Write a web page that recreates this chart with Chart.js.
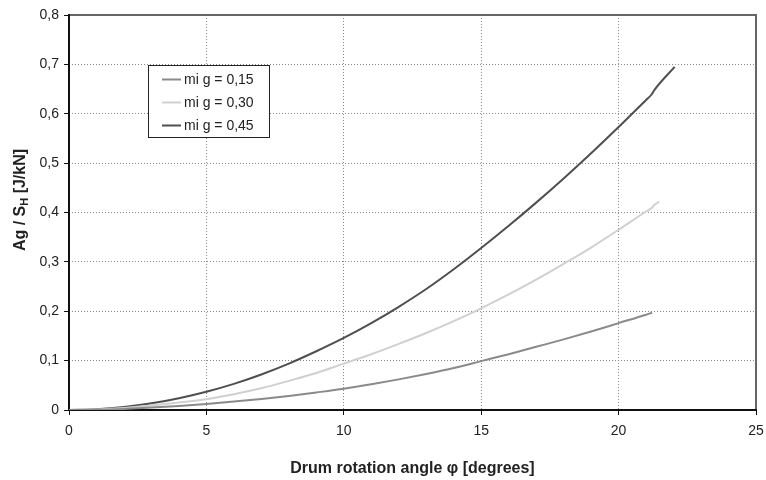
<!DOCTYPE html>
<html>
<head>
<meta charset="utf-8">
<script src="https://cdn.jsdelivr.net/npm/chart.js@4"></script>
<style>
  html, body { margin: 0; padding: 0; background: #fff; }
  #wrap { width: 766px; height: 480px; position: relative; }
</style>
</head>
<body>
<div id="wrap"><canvas id="grafico"></canvas></div>
<script>
// valores (angulo en grados, Ag/SH en J/kN)
const seriesNombres = ["mi g = 0,15", "mi g = 0,30", "mi g = 0,45"];
const seriesColores = ["#8a8a8a", "#d0d0d0", "#4f4f4f"];

const angulo015 = [0, 1, 2, 3, 4, 5, 6, 7, 8, 9, 10, 11, 12, 13, 14, 15, 16, 17, 18, 19, 20, 21, 21.22];
const valor015  = [0, 0.0005, 0.002, 0.005, 0.008, 0.012, 0.017, 0.0225, 0.0285, 0.0355, 0.043, 0.052, 0.062, 0.073, 0.085, 0.099, 0.113, 0.128, 0.143, 0.159, 0.176, 0.193, 0.197];

const angulo030 = [0, 1, 2, 3, 4, 5, 6, 7, 8, 9, 10, 11, 12, 13, 14, 15, 16, 17, 18, 19, 20, 21, 21.2, 21.3, 21.47];
const valor030  = [0, 0.001, 0.004, 0.009, 0.015, 0.022, 0.032, 0.044, 0.059, 0.075, 0.094, 0.113, 0.134, 0.156, 0.180, 0.206, 0.234, 0.264, 0.296, 0.329, 0.365, 0.402, 0.409, 0.415, 0.422];

const angulo045 = [0, 1, 2, 3, 4, 5, 6, 7, 8, 9, 10, 11, 12, 13, 14, 15, 16, 17, 18, 19, 20, 21, 21.2, 21.3, 22.04];
const valor045  = [0, 0.0015, 0.006, 0.0135, 0.024, 0.037, 0.053, 0.072, 0.094, 0.119, 0.146, 0.176, 0.209, 0.245, 0.285, 0.328, 0.373, 0.420, 0.469, 0.520, 0.573, 0.628, 0.639, 0.648, 0.695];

const ticksX = [0, 5, 10, 15, 20, 25];
const ticksY = [0, 0.1, 0.2, 0.3, 0.4, 0.5, 0.6, 0.7, 0.8];

const FUENTE = "'Liberation Sans', Arial, sans-serif";

function armarPuntos(xs, ys) {
    return xs.map((x, i) => ({ x: x, y: ys[i] }));
}

const datasets = [
    armarPuntos(angulo015, valor015),
    armarPuntos(angulo030, valor030),
    armarPuntos(angulo045, valor045)
].map((puntos, i) => ({
    label: seriesNombres[i],
    data: puntos,
    showLine: true,
    borderColor: seriesColores[i],
    borderWidth: 2,
    pointRadius: 0,
    cubicInterpolationMode: 'monotone',
    fill: false
}));

// marco superior/derecho, ejes, leyenda y titulos
const pluginDecorado = {
    id: 'decorado',
    beforeDatasetsDraw(chart) {
        const { ctx, chartArea: a } = chart;
        ctx.save();
        ctx.setLineDash([]);
        ctx.strokeStyle = '#666';
        ctx.lineWidth = 2;
        ctx.beginPath();
        ctx.moveTo(a.left, a.top);
        ctx.lineTo(a.right, a.top);
        ctx.lineTo(a.right, a.bottom);
        ctx.stroke();
        ctx.strokeStyle = '#111';
        ctx.beginPath();
        ctx.moveTo(a.left, a.top - 1);
        ctx.lineTo(a.left, a.bottom);
        ctx.lineTo(a.right + 1, a.bottom);
        ctx.stroke();
        ctx.restore();
    },
    afterDraw(chart) {
        const { ctx, chartArea: a } = chart;
        ctx.save();

        // Leyenda
        const lx = 148.5, ly = 65.5, lw = 121, lh = 72;
        ctx.fillStyle = '#fff';
        ctx.fillRect(lx, ly, lw, lh);
        ctx.strokeStyle = '#222';
        ctx.lineWidth = 1;
        ctx.strokeRect(lx, ly, lw, lh);
        const filas = [79.5, 102.5, 125.5];
        chart.data.datasets.forEach((ds, i) => {
            ctx.strokeStyle = ds.borderColor;
            ctx.lineWidth = 2;
            ctx.beginPath();
            ctx.moveTo(162, filas[i]);
            ctx.lineTo(181, filas[i]);
            ctx.stroke();
            ctx.fillStyle = '#222';
            ctx.font = "14px " + FUENTE;
            ctx.textAlign = 'left';
            ctx.textBaseline = 'middle';
            ctx.fillText(ds.label, 184, filas[i] + 1);
        });

        // Titulo eje X
        ctx.fillStyle = '#222';
        ctx.font = "bold 16px " + FUENTE;
        ctx.textAlign = 'center';
        ctx.textBaseline = 'middle';
        ctx.fillText('Drum rotation angle φ [degrees]', (a.left + a.right) / 2, 469);

        // Titulo eje Y con subindice
        ctx.translate(19, 200);
        ctx.rotate(-Math.PI / 2);
        const p1 = 'Ag / S', sub = 'H', p2 = ' [J/kN]';
        ctx.font = "bold 16px " + FUENTE;
        const w1 = ctx.measureText(p1).width, w3 = ctx.measureText(p2).width;
        ctx.font = "bold 11px " + FUENTE;
        const w2 = ctx.measureText(sub).width;
        let x = -(w1 + w2 + w3) / 2;
        ctx.textAlign = 'left';
        ctx.textBaseline = 'alphabetic';
        ctx.font = "bold 16px " + FUENTE;
        ctx.fillText(p1, x, 6);
        x += w1;
        ctx.font = "bold 11px " + FUENTE;
        ctx.fillText(sub, x, 9);
        x += w2;
        ctx.font = "bold 16px " + FUENTE;
        ctx.fillText(p2, x, 6);

        ctx.restore();
    }
};

function formatoComa(v) {
    if (v === 0) return '0';
    return v.toFixed(1).replace('.', ',');
}

new Chart(document.getElementById('grafico'), {
    type: 'scatter',
    data: { datasets: datasets },
    options: {
        responsive: true,
        maintainAspectRatio: false,
        animation: false,
        layout: { padding: { left: 0, top: 15, right: 10, bottom: 0 } },
        plugins: { legend: { display: false }, tooltip: { enabled: false } },
        scales: {
            x: {
                type: 'linear',
                min: 0, max: 25,
                afterBuildTicks: s => { s.ticks = ticksX.map(v => ({ value: v })); },
                afterFit: s => { s.height = 70; s.paddingRight = 0; s.paddingLeft = 0; },
                border: { display: false, dash: [1, 2] },
                grid: { color: '#8a8a8a', lineWidth: 1, tickLength: 5, tickColor: '#111', tickBorderDash: [], tickWidth: 1 },
                ticks: { color: '#222', font: { size: 14, family: FUENTE }, padding: 8, maxRotation: 0, callback: v => String(v) }
            },
            y: {
                type: 'linear',
                min: 0, max: 0.8,
                afterBuildTicks: s => { s.ticks = ticksY.map(v => ({ value: v })); },
                afterFit: s => { s.width = 69; s.paddingTop = 0; s.paddingBottom = 0; },
                border: { display: false, dash: [1, 2] },
                grid: { color: '#8a8a8a', lineWidth: 1, tickLength: 5, tickColor: '#111', tickBorderDash: [], tickWidth: 1 },
                ticks: { color: '#222', font: { size: 14, family: FUENTE }, padding: 5, callback: v => formatoComa(v) }
            }
        }
    },
    plugins: [pluginDecorado]
});
</script>
</body>
</html>
